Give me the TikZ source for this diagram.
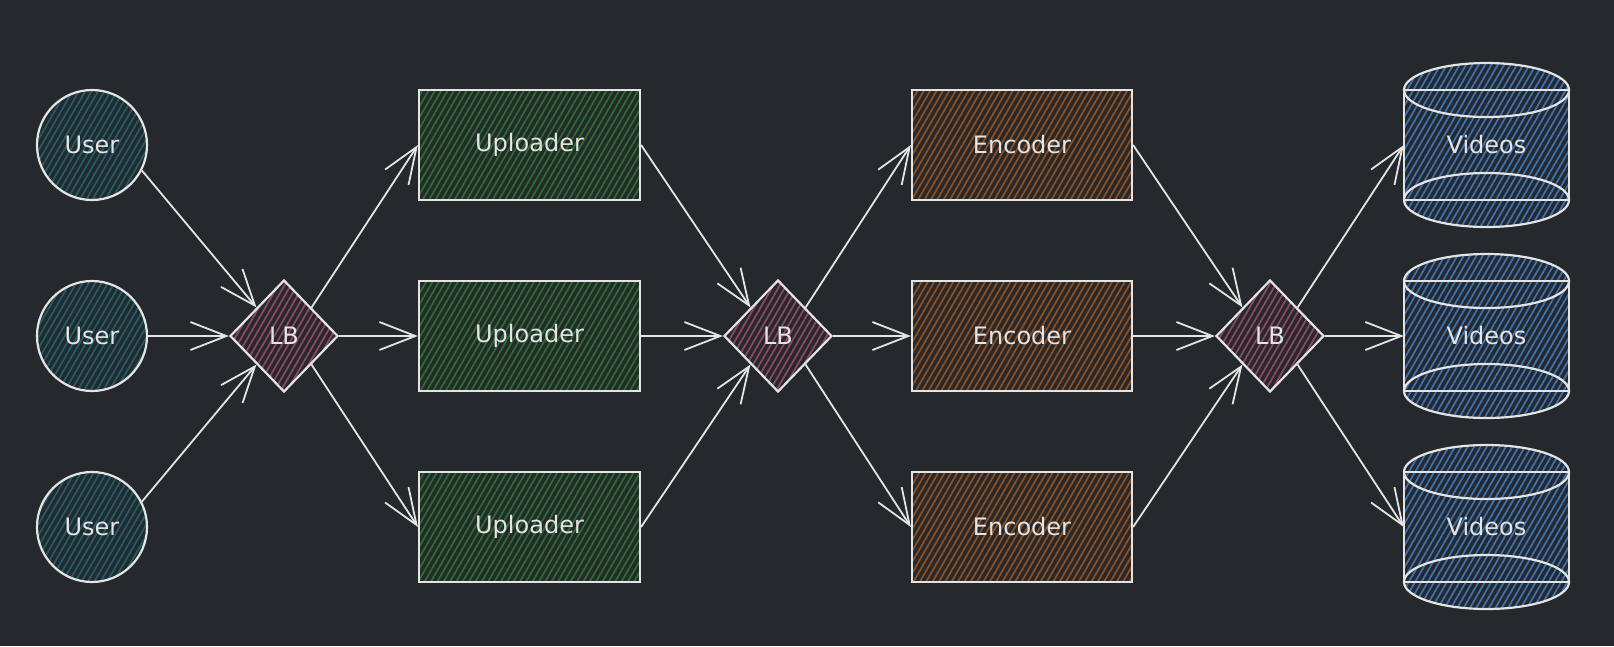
\documentclass[tikz,border=0pt]{standalone}
\usepackage{fontspec}
\setmainfont{DejaVu Sans}
\usetikzlibrary{shapes.geometric, arrows.meta, patterns.meta}
\definecolor{bg}{HTML}{25282C}
\definecolor{ink}{HTML}{E4E4E4}
\definecolor{userc}{HTML}{1F5E68}
\definecolor{upc}{HTML}{2B6D2F}
\definecolor{encc}{HTML}{8E4E1E}
\definecolor{lbc}{HTML}{8C4762}
\definecolor{vidc}{HTML}{3C70AE}
\newcommand\lblfont{\fontsize{24}{28}\selectfont}
\tikzset{
  hatch/.style={pattern={Lines[angle=60,distance=5.5pt,line width=1.8pt]}, pattern color=#1},
  outl/.style={draw=ink, line width=2.2pt},
  lbl/.style={text=ink, font=\lblfont},
  user/.style={circle, outl, lbl, minimum size=110pt, inner sep=0pt, hatch=userc},
  upbox/.style={rectangle, outl, lbl, minimum width=221pt, minimum height=110pt, hatch=upc},
  encbox/.style={rectangle, outl, lbl, minimum width=220pt, minimum height=110pt, hatch=encc},
  lb/.style={diamond, outl, lbl, minimum width=108pt, minimum height=112pt, inner sep=0pt, hatch=lbc},
  vid/.style={rectangle, lbl, minimum width=165pt, minimum height=110pt, inner sep=0pt},
  conn/.style={draw=ink, line width=1.8pt, -{Straight Barb[length=36pt,width=28pt]}}
}
\begin{document}
\begin{tikzpicture}[x=1pt, y=-1pt]
\fill[bg] (0,0) rectangle (1614,646);
\useasboundingbox (0,0) rectangle (1614,646);

% users
\node[user] (u1) at (92,145) {User};
\node[user] (u2) at (92,336) {User};
\node[user] (u3) at (92,527) {User};

% load balancers
\node[lb] (lb1) at (284,336) {LB};
\node[lb] (lb2) at (778,336) {LB};
\node[lb] (lb3) at (1270,336) {LB};

% uploaders
\node[upbox] (up1) at (529.5,145) {Uploader};
\node[upbox] (up2) at (529.5,336) {Uploader};
\node[upbox] (up3) at (529.5,527) {Uploader};

% encoders
\node[encbox] (en1) at (1022,145) {Encoder};
\node[encbox] (en2) at (1022,336) {Encoder};
\node[encbox] (en3) at (1022,527) {Encoder};

% video cylinders
\foreach \cy/\nm in {145/v1, 336/v2, 527/v3} {
  \path[hatch=vidc] (1404,\cy-55) arc[start angle=180, end angle=0, x radius=82.5pt, y radius=27pt]
     -- (1569,\cy+55) arc[start angle=0, end angle=-180, x radius=82.5pt, y radius=27pt] -- cycle;
  \draw[outl] (1486.5,\cy-55) ellipse[x radius=82.5pt, y radius=27pt];
  \draw[outl] (1486.5,\cy+55) ellipse[x radius=82.5pt, y radius=27pt];
  \draw[outl] (1404,\cy-55) -- (1404,\cy+55) (1569,\cy-55) -- (1569,\cy+55)
              (1404,\cy-55) -- (1569,\cy-55) (1404,\cy+55) -- (1569,\cy+55);
  \node[vid] (\nm) at (1486.5,\cy) {Videos};
}

% connectors
\draw[conn] (u1.-27) -- (lb1.north west);
\draw[conn] (u2.east) -- (lb1.west);
\draw[conn] (u3.27) -- (lb1.south west);

\draw[conn] (lb1.north east) -- (up1.west);
\draw[conn] (lb1.east) -- (up2.west);
\draw[conn] (lb1.south east) -- (up3.west);

\draw[conn] (up1.east) -- (lb2.north west);
\draw[conn] (up2.east) -- (lb2.west);
\draw[conn] (up3.east) -- (lb2.south west);

\draw[conn] (lb2.north east) -- (en1.west);
\draw[conn] (lb2.east) -- (en2.west);
\draw[conn] (lb2.south east) -- (en3.west);

\draw[conn] (en1.east) -- (lb3.north west);
\draw[conn] (en2.east) -- (lb3.west);
\draw[conn] (en3.east) -- (lb3.south west);

\draw[conn] (lb3.north east) -- (v1.west);
\draw[conn] (lb3.east) -- (v2.west);
\draw[conn] (lb3.south east) -- (v3.west);
\end{tikzpicture}
\end{document}
